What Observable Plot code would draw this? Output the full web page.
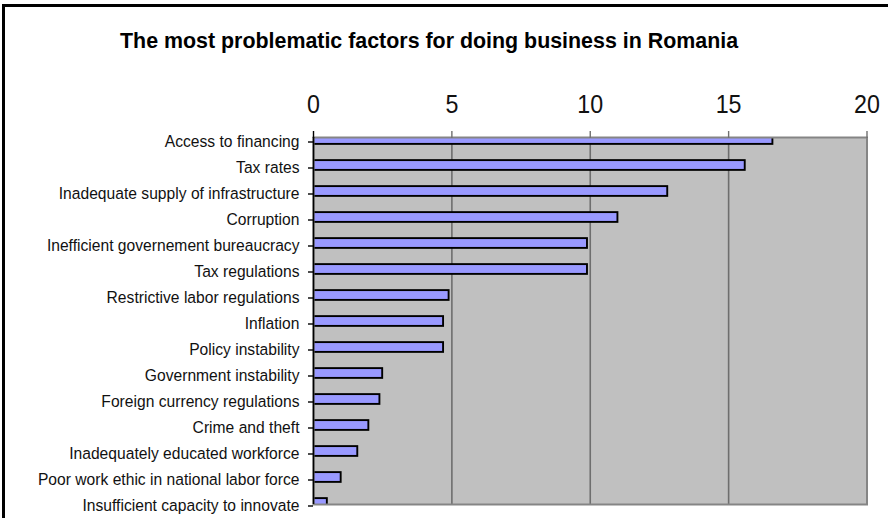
<!DOCTYPE html>
<html>
<head>
<meta charset="utf-8">
<script src="https://cdn.jsdelivr.net/npm/d3@7"></script>
<script src="https://cdn.jsdelivr.net/npm/@observablehq/plot@0.6"></script>
<style>
  html, body { margin: 0; padding: 0; background: #fff; overflow: hidden; }
  #wrap { position: relative; width: 888px; height: 518px; }
  #border { position: absolute; left: 2px; top: 4px; width: 1000px; height: 1000px;
            border-left: 3px solid #000; border-top: 3px solid #000; pointer-events: none; }
  #title { position: absolute; left: 120px; top: 31px; white-space: nowrap;
           font-family: "Liberation Sans", Arial, sans-serif; font-weight: bold;
           font-size: 21.4px; line-height: 1; color: #000; }
  #chart { position: absolute; left: 0; top: 0; }
</style>
</head>
<body>
<div id="wrap">
  <div id="chart"></div>
  <div id="border"></div>
  <div id="title">The most problematic factors for doing business in Romania</div>
</div>
<script>
const categories = [
  "Access to financing",
  "Tax rates",
  "Inadequate supply of infrastructure",
  "Corruption",
  "Inefficient governement bureaucracy",
  "Tax regulations",
  "Restrictive labor regulations",
  "Inflation",
  "Policy instability",
  "Government instability",
  "Foreign currency regulations",
  "Crime and theft",
  "Inadequately educated workforce",
  "Poor work ethic in national labor force",
  "Insufficient capacity to innovate"
];
const values = [16.6, 15.6, 12.8, 11.0, 9.9, 9.9, 4.9, 4.7, 4.7, 2.5, 2.4, 2.0, 1.6, 1.0, 0.5];
const xTicks = [0, 5, 10, 15, 20];
const gridValues = [5, 10, 15];

const data = categories.map((c, i) => ({factor: c, value: values[i]}));

const W = 888, H = 518, mT = 137, mB = 14, mL = 313, mR = 21.5;
const step = (H - mT - mB) / (categories.length - 1);
const barH = 10;
const inset = (step - barH) / 2;

const chart = Plot.plot({
  width: W,
  height: H,
  marginTop: mT,
  marginBottom: mB,
  marginLeft: mL,
  marginRight: mR,
  style: {background: "transparent", fontFamily: "'Liberation Sans', Arial, sans-serif", color: "#111", overflow: "visible"},
  x: {domain: [0, 20], axis: null},
  y: {type: "band", domain: categories, range: [mT - step / 2, H - mB + step / 2], padding: 0, axis: null},
  marks: [
    Plot.frame({fill: "#c0c0c0"}),
    Plot.ruleX(gridValues, {stroke: "#6e6e6e", strokeWidth: 1.6}),
    Plot.barX(data, {x: "value", y: "factor", fill: "#9999ff", stroke: "#000", strokeWidth: 1.9,
                     insetTop: inset, insetBottom: inset, clip: true}),
    Plot.frame({stroke: "#858585", strokeWidth: 2}),
    Plot.ruleX([0], {stroke: "#000", strokeWidth: 1.6}),
    Plot.axisX({anchor: "top", ticks: xTicks, tickSize: 7, tickPadding: 18, fontSize: 25, label: null,
                stroke: d => d === 0 ? "#000" : "#707070", strokeWidth: 1.4, fill: "#111"}),
    Plot.axisY({anchor: "left", tickSize: 5, tickPadding: 9, fontSize: 17, label: null, stroke: "#000",
                strokeWidth: 1.4, fill: "#111", dy: 2.5})
  ]
});
document.getElementById("chart").appendChild(chart);

// slightly condensed glyphs as in the original
chart.querySelectorAll('g[aria-label="y-axis tick label"] text').forEach(t => {
  t.setAttribute("transform", (t.getAttribute("transform") || "") + " scale(0.92,1)");
});
chart.querySelectorAll('g[aria-label="x-axis tick label"] text').forEach(t => {
  t.setAttribute("transform", (t.getAttribute("transform") || "") + " scale(0.93,1)");
});
</script>
</body>
</html>
